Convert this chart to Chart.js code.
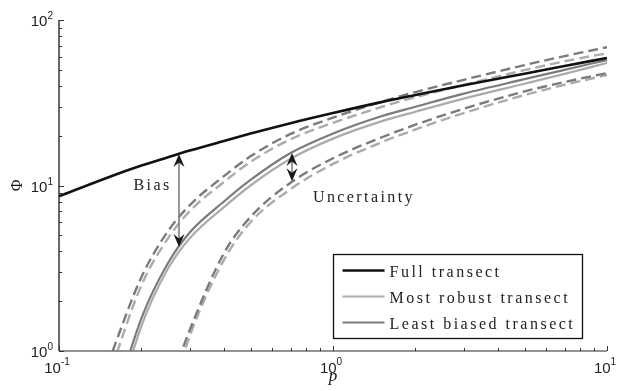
<!DOCTYPE html>
<html>
<head>
<meta charset="utf-8">
<script src="https://cdn.jsdelivr.net/npm/chart.js@4.4.1/dist/chart.umd.min.js"></script>
<style>
  html, body { margin: 0; padding: 0; background: #fff; }
  #wrap { width: 624px; height: 391px; position: relative; }
</style>
</head>
<body>
<div id="wrap"><canvas id="phiChart"></canvas></div>
<script>
// p sampling grid and Phi values (null = below the plot)
const pValues      = [0.1, 0.15, 0.2, 0.25, 0.3, 0.4, 0.5, 0.7, 1, 1.5, 2, 3, 5, 7, 10];
const fullTransect = [8.6, 11.15, 13.2, 14.8, 16.25, 18.6, 20.6, 23.8, 27.4, 31.9, 35.2, 40.3, 47.4, 52.7, 59.0];
const robustSolid  = [null, 0.29, 1.42, 3.15, 4.8, 7.4, 10.0, 14.5, 19.2, 24.4, 27.9, 33.5, 41.2, 47.3, 55.0];
const robustUpper  = [null, 0.66, 2.5, 4.8, 7.0, 10.5, 13.9, 19.0, 23.9, 29.8, 34.2, 40.5, 49.8, 56.3, 63.0];
const robustLower  = [null, null, null, 0.47, 1.23, 3.55, 6.0, 9.5, 13.5, 18.2, 21.8, 27.4, 35.2, 40.6, 46.5];
const biasedSolid  = [null, 0.35, 1.58, 3.4, 5.2, 8.0, 10.8, 15.7, 20.6, 26.2, 29.9, 35.9, 43.9, 50.0, 57.3];
const biasedUpper  = [null, 0.82, 2.8, 5.3, 7.6, 11.4, 15.0, 20.5, 25.7, 32.0, 36.7, 43.5, 53.4, 60.5, 68.5];
const biasedLower  = [null, null, null, 0.59, 1.34, 3.9, 6.45, 10.4, 14.6, 19.5, 23.3, 29.1, 37.0, 42.2, 47.8];

// decade tick labels (exponents of 10)
const xTickExps = [-1, 0, 1];
const yTickExps = [0, 1, 2];

// annotations in data units
const biasArrow = { p: 0.274, lo: 4.25, hi: 15.5 };
const uncArrow  = { p: 0.708, lo: 10.6, hi: 15.7 };
const biasLabel = { p: 0.187, phi: 10.0, text: 'Bias' };
const uncLabel  = { p: 0.845, phi: 8.4, text: 'Uncertainty' };

const BLACK = '#111111';
const DARK = '#7b7b7b';
const LIGHT = '#ababab';
const SERIF = '"Liberation Serif", "DejaVu Serif", serif';
const SANS = '"Liberation Sans", Arial, sans-serif';

function pts(vals) {
    return pValues.map((p, i) => ({ x: p, y: vals[i] }));
}

function line(label, vals, color, width, dashed) {
    return {
        label: label,
        data: pts(vals),
        borderColor: color,
        borderWidth: width,
        borderDash: dashed ? [10, 5] : [],
        pointRadius: 0,
        fill: false,
        cubicInterpolationMode: 'monotone',
        spanGaps: false,
        clip: 0
    };
}

// first dataset is drawn on top
const datasets = [
    line('Full transect', fullTransect, BLACK, 2.6, false),
    line('Least biased transect', biasedSolid, DARK, 2.2, false),
    line('Most robust transect', robustSolid, LIGHT, 2.2, false),
    line('Least biased upper', biasedUpper, DARK, 2.4, true),
    line('Most robust upper', robustUpper, LIGHT, 2.4, true),
    line('Least biased lower', biasedLower, DARK, 2.4, true),
    line('Most robust lower', robustLower, LIGHT, 2.4, true)
];

const legendItems = [
    { text: 'Full transect', color: BLACK, width: 2.6 },
    { text: 'Most robust transect', color: LIGHT, width: 2.2 },
    { text: 'Least biased transect', color: DARK, width: 2.2 }
];

function drawPow(ctx, exp, x, y, align, raise) {
    ctx.letterSpacing = '0px';
    ctx.font = '15px ' + SANS;
    const w1 = ctx.measureText('10').width;
    ctx.font = '10px ' + SANS;
    const w2 = ctx.measureText(String(exp)).width;
    const start = align === 'right' ? x - w1 - w2 : x - (w1 + w2) / 2;
    ctx.textAlign = 'left';
    ctx.textBaseline = 'alphabetic';
    ctx.font = '15px ' + SANS;
    ctx.fillText('10', start, y);
    ctx.font = '10px ' + SANS;
    ctx.fillText(String(exp), start + w1, y - raise);
}

function arrowHead(ctx, x, tipY, dir) {
    // dir = 1 points down, -1 points up
    ctx.beginPath();
    ctx.moveTo(x, tipY);
    ctx.lineTo(x - 5.5, tipY - dir * 13);
    ctx.lineTo(x, tipY - dir * 8.5);
    ctx.lineTo(x + 5.5, tipY - dir * 13);
    ctx.closePath();
    ctx.fill();
}

function doubleArrow(ctx, xs, ys, a) {
    const x = Math.round(xs.getPixelForValue(a.p));
    const top = ys.getPixelForValue(a.hi);
    const bot = ys.getPixelForValue(a.lo);
    ctx.strokeStyle = '#808080';
    ctx.lineWidth = 1.6;
    ctx.beginPath();
    ctx.moveTo(x, top + 6);
    ctx.lineTo(x, bot - 6);
    ctx.stroke();
    ctx.fillStyle = '#1a1a1a';
    arrowHead(ctx, x, top, -1);
    arrowHead(ctx, x, bot, 1);
}

const matlabAxes = {
    id: 'matlabAxes',
    afterDraw(chart) {
        const ctx = chart.ctx;
        const a = chart.chartArea;
        const xs = chart.scales.x;
        const ys = chart.scales.y;
        ctx.save();

        // axis lines
        ctx.lineWidth = 1.3;
        ctx.strokeStyle = '#1a1a1a';
        ctx.beginPath();
        ctx.moveTo(a.left, a.top);
        ctx.lineTo(a.left, a.bottom);
        ctx.stroke();
        ctx.strokeStyle = '#6e6e6e';
        ctx.beginPath();
        ctx.moveTo(a.left, a.bottom);
        ctx.lineTo(a.right, a.bottom);
        ctx.stroke();

        // inward ticks, majors at decades and minors at 2..9
        ctx.lineWidth = 1;
        ctx.strokeStyle = '#333333';
        for (let e = xTickExps[0]; e <= xTickExps[xTickExps.length - 1]; e++) {
            for (let k = 1; k <= 9; k++) {
                const v = k * Math.pow(10, e);
                if (v > xs.max * 1.0001) continue;
                const px = Math.round(xs.getPixelForValue(v)) + 0.5;
                const len = k === 1 ? 5 : 3;
                ctx.beginPath();
                ctx.moveTo(px, a.bottom);
                ctx.lineTo(px, a.bottom - len);
                ctx.stroke();
            }
        }
        for (let e = yTickExps[0]; e <= yTickExps[yTickExps.length - 1]; e++) {
            for (let k = 1; k <= 9; k++) {
                const v = k * Math.pow(10, e);
                if (v > ys.max * 1.0001) continue;
                const py = Math.round(ys.getPixelForValue(v)) + 0.5;
                const len = k === 1 ? 5 : 3;
                ctx.beginPath();
                ctx.moveTo(a.left, py);
                ctx.lineTo(a.left + len, py);
                ctx.stroke();
            }
        }

        // tick labels
        ctx.fillStyle = '#222222';
        xTickExps.forEach(e => {
            const px = xs.getPixelForValue(Math.pow(10, e));
            drawPow(ctx, e, px - 2, a.bottom + 22, 'center', 8);
        });
        yTickExps.forEach(e => {
            const py = ys.getPixelForValue(Math.pow(10, e));
            drawPow(ctx, e, a.left - 6, py + 6, 'right', 7);
        });

        // axis titles
        ctx.fillStyle = '#111111';
        ctx.font = 'italic 17px ' + SERIF;
        ctx.textAlign = 'center';
        ctx.textBaseline = 'alphabetic';
        ctx.fillText('p', (a.left + a.right) / 2, a.bottom + 30);
        ctx.save();
        ctx.translate(18, ys.getPixelForValue(10));
        ctx.rotate(-Math.PI / 2);
        ctx.font = '16px ' + SERIF;
        ctx.textBaseline = 'middle';
        ctx.fillText('\u03A6', 0, 0);
        ctx.restore();

        // annotations
        doubleArrow(ctx, xs, ys, biasArrow);
        doubleArrow(ctx, xs, ys, uncArrow);
        ctx.fillStyle = '#222222';
        ctx.font = '16px ' + SERIF;
        ctx.letterSpacing = '2.4px';
        ctx.textAlign = 'left';
        ctx.textBaseline = 'middle';
        ctx.fillText(biasLabel.text, xs.getPixelForValue(biasLabel.p), ys.getPixelForValue(biasLabel.phi));
        ctx.fillText(uncLabel.text, xs.getPixelForValue(uncLabel.p), ys.getPixelForValue(uncLabel.phi));

        // legend box
        const bx = Math.round(xs.getPixelForValue(1)) + 0.5;
        const by = 254.5, bw = 249, bh = 84;
        ctx.fillStyle = '#ffffff';
        ctx.fillRect(bx, by, bw, bh);
        ctx.strokeStyle = '#111111';
        ctx.lineWidth = 1.3;
        ctx.strokeRect(bx, by, bw, bh);
        legendItems.forEach((it, i) => {
            const cy = by + 16 + i * 26;
            ctx.strokeStyle = it.color;
            ctx.lineWidth = it.width;
            ctx.beginPath();
            ctx.moveTo(bx + 9, cy);
            ctx.lineTo(bx + 51, cy);
            ctx.stroke();
            ctx.fillStyle = '#222222';
            ctx.font = '16px ' + SERIF;
            ctx.letterSpacing = '2.5px';
            ctx.textBaseline = 'alphabetic';
            ctx.fillText(it.text, bx + 56, cy + 6);
        });
        ctx.restore();
    }
};

new Chart(document.getElementById('phiChart'), {
    type: 'line',
    data: { datasets: datasets },
    options: {
        responsive: true,
        maintainAspectRatio: false,
        animation: false,
        layout: { padding: { left: 59, right: 17, top: 20, bottom: 40 } },
        plugins: {
            legend: { display: false },
            tooltip: { enabled: false }
        },
        scales: {
            x: { type: 'logarithmic', min: 0.1, max: 10, display: false },
            y: { type: 'logarithmic', min: 1, max: 100, display: false }
        }
    },
    plugins: [matlabAxes]
});
</script>
</body>
</html>
